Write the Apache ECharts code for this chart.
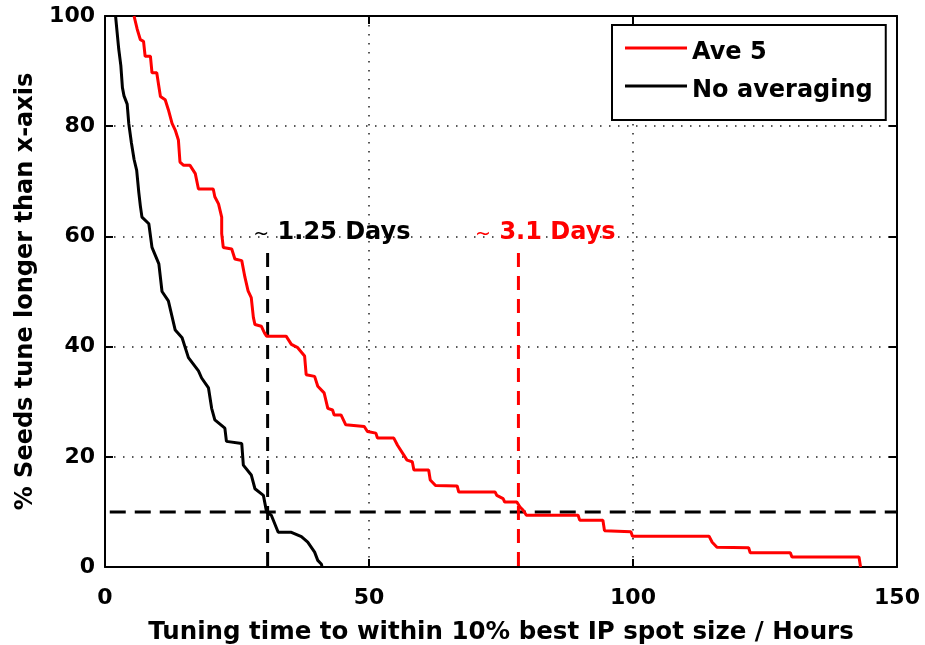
<!DOCTYPE html>
<html>
<head>
<meta charset="utf-8">
<script src="https://cdn.jsdelivr.net/npm/echarts@6/dist/echarts.min.js"></script>
<style>html,body{margin:0;padding:0;background:#fff;}#c{width:925px;height:645px;}</style>
</head>
<body>
<div id="c"></div>
<script>
// ---- data ----
const xTicks = [0, 50, 100, 150];
const yTicks = [0, 20, 40, 60, 80, 100];
const seriesNames = ['Ave 5', 'No averaging'];
const ave5 = [[5.5,100],[6.1,97.6],[6.7,95.7],[7.3,95.4],[7.6,92.7],[8.6,92.7],[8.9,89.7],[9.8,89.7],[10.2,87.2],[10.5,85.4],[11.4,84.8],[12.0,83],[12.7,80.5],[13.3,79.3],[13.9,77.5],[14.2,73.5],[14.9,72.9],[16.1,72.9],[17.1,71.4],[17.7,68.6],[20.5,68.6],[20.8,67.2],[21.5,65.9],[22.1,63.5],[22.1,60.5],[22.4,58],[24.0,57.7],[24.6,55.9],[25.9,55.6],[26.5,52.6],[27.1,50.1],[27.7,48.9],[28.1,45.3],[28.4,44],[29.6,43.7],[30.2,42.5],[30.6,41.9],[34.3,41.9],[35.3,40.4],[36.5,39.8],[37.8,38.3],[38.1,34.9],[39.7,34.6],[40.3,32.8],[41.5,31.6],[42.2,28.8],[43.1,28.5],[43.4,27.6],[44.7,27.6],[45.6,25.8],[49.1,25.5],[49.7,24.6],[51.3,24.3],[51.6,23.4],[54.7,23.4],[55.4,22.1],[56.6,20.3],[57.2,19.4],[58.2,19.1],[58.5,17.6],[61.3,17.6],[61.6,15.8],[62.6,14.8],[66.7,14.7],[67.0,13.6],[73.9,13.6],[74.2,13.0],[75.4,12.4],[75.7,11.8],[78.0,11.8],[78.6,10.9],[79.2,10.3],[79.8,9.4],[89.6,9.4],[89.9,8.5],[94.3,8.5],[94.6,6.6],[99.6,6.4],[99.9,5.6],[114.4,5.6],[115.0,4.5],[115.9,3.6],[121.9,3.5],[122.2,2.6],[129.8,2.6],[130.1,1.8],[142.8,1.8],[143.1,0]];
const noAvg = [[2.0,100],[2.3,97],[2.6,94],[3.0,91],[3.3,87],[3.6,85.5],[4.2,84],[4.5,80.5],[5.0,77],[5.5,74],[6.0,72],[6.4,68],[6.7,65.5],[7.0,63.5],[8.3,62.3],[8.9,58],[10.2,55],[10.8,50],[12.0,48.3],[13.3,43],[14.6,41.6],[15.8,38],[17.7,35.6],[18.3,34.3],[19.6,32.5],[20.2,28.8],[20.8,26.7],[22.7,25.2],[23.0,22.8],[25.9,22.4],[26.2,18.5],[27.7,16.7],[28.4,14.2],[30.0,13.0],[30.6,10],[31.5,9.4],[32.8,6.3],[35.3,6.3],[37.2,5.5],[38.4,4.5],[39.7,2.7],[40.3,1.2],[41.0,0.5],[41.1,0]];
const thresholdY = 10;
const thresholdXRange = [0.9, 150];
const blackMarkX = 30.8;
const redMarkX = 78.3;
const markTopY = 57;
const annotations = [
  {x: 28.0, y: 60.6, text: '1.25 Days', color: '#000000'},
  {x: 70.0, y: 60.6, text: '3.1 Days', color: '#ff0000'}
];

const FONT = 'DejaVu Sans';
const chart = echarts.init(document.getElementById('c'), null, {renderer: 'canvas'});

function axisCommon(show) {
  return {
    axisLine: {show: true, onZero: false, lineStyle: {color: '#000', width: 2}},
    axisTick: {show: true, inside: true, length: 8, lineStyle: {color: '#000', width: 2}},
    axisLabel: {show: show}
  };
}

// legend icon: line drawn near the top of a taller box (offset above text centre)
const legendIcon = 'path://M0,0 H62 V3 H0 Z M0,13 H62 V13 Z';

const option = {
  backgroundColor: '#fff',
  animation: false,
  grid: {left: 105, right: 28, top: 16, bottom: 78, containLabel: false, outerBoundsMode: 'none'},
  legend: {
    data: seriesNames,
    orient: 'vertical',
    left: 612, top: 25,
    icon: legendIcon,
    itemWidth: 62, itemHeight: 13,
    itemGap: 14,
    padding: [16, 13, 17, 13],
    backgroundColor: '#fff',
    borderColor: '#000', borderWidth: 2,
    textStyle: {fontFamily: FONT, fontWeight: 'bold', fontSize: 24, color: '#000'}
  },
  xAxis: [
    Object.assign({
      type: 'value', min: xTicks[0], max: xTicks[xTicks.length-1], interval: 50, position: 'bottom',
      name: 'Tuning time to within 10% best IP spot size / Hours',
      nameLocation: 'middle', nameGap: 53,
      nameTextStyle: {fontFamily: FONT, fontWeight: 'bold', fontSize: 24.5, color: '#000'},
      splitLine: {show: true, lineStyle: {color: '#222', width: 1.5, type: [1.5, 7.5]}}
    }, axisCommon(true), {
      axisLabel: {show: true, fontFamily: FONT, fontWeight: 'bold', fontSize: 22, color: '#000', margin: 20}
    }),
    Object.assign({
      type: 'value', min: xTicks[0], max: xTicks[xTicks.length-1], interval: 50, position: 'top',
      splitLine: {show: false}
    }, axisCommon(false))
  ],
  yAxis: [
    Object.assign({
      type: 'value', min: yTicks[0], max: yTicks[yTicks.length-1], interval: 20, position: 'left',
      name: '% Seeds tune longer than x-axis',
      nameLocation: 'middle', nameGap: 66, nameRotate: 90,
      nameTextStyle: {fontFamily: FONT, fontWeight: 'bold', fontSize: 24, color: '#000'},
      splitLine: {show: true, lineStyle: {color: '#222', width: 1.5, type: [1.5, 7.5]}}
    }, axisCommon(true), {
      axisLabel: {show: true, fontFamily: FONT, fontWeight: 'bold', fontSize: 22, color: '#000', margin: 10}
    }),
    Object.assign({
      type: 'value', min: yTicks[0], max: yTicks[yTicks.length-1], interval: 20, position: 'right',
      splitLine: {show: false}
    }, axisCommon(false))
  ],
  series: [
    {
      name: 'threshold', type: 'line', silent: true, showSymbol: false,
      data: [[thresholdXRange[0], thresholdY], [thresholdXRange[1], thresholdY]],
      lineStyle: {color: '#000', width: 3, type: [16, 9]}, z: 3
    },
    {
      name: 'blackMark', type: 'line', silent: true, showSymbol: false,
      data: [[blackMarkX, markTopY], [blackMarkX, 0]],
      lineStyle: {color: '#000', width: 3, type: [14, 9]}, z: 3
    },
    {
      name: 'redMark', type: 'line', silent: true, showSymbol: false,
      data: [[redMarkX, markTopY], [redMarkX, 0]],
      lineStyle: {color: '#ff0000', width: 3, type: [14, 9]}, z: 3
    },
    {
      name: seriesNames[0], type: 'line', showSymbol: false,
      data: ave5, color: '#ff0000',
      lineStyle: {color: '#ff0000', width: 3}, z: 4
    },
    {
      name: seriesNames[1], type: 'line', showSymbol: false,
      data: noAvg, color: '#000',
      lineStyle: {color: '#000', width: 3}, z: 4
    },
    {
      name: 'annot', type: 'scatter', symbolSize: 1, silent: true,
      itemStyle: {opacity: 1, color: 'rgba(0,0,0,0)'},
      data: annotations.map(a => ({
        value: [a.x, a.y],
        label: {
          show: true, position: 'right', distance: 0, opacity: 1,
          formatter: '{t|~} ' + a.text,
          color: a.color, fontFamily: FONT, fontWeight: 'bold', fontSize: 24,
          rich: {t: {fontSize: 19, fontWeight: 'normal', color: a.color, fontFamily: FONT, padding: [3, 0, 0, 0]}}
        }
      })),
      z: 5
    }
  ]
};
chart.setOption(option);
</script>
</body>
</html>
